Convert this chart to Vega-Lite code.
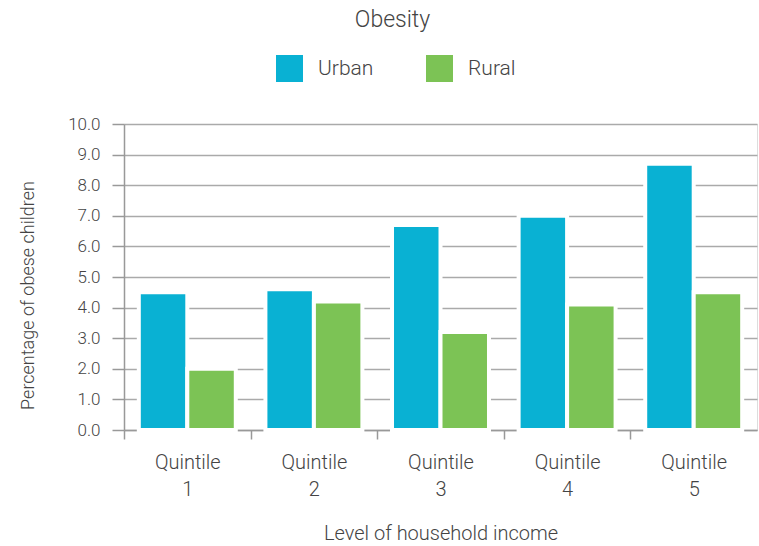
{
  "$schema": "https://vega.github.io/schema/vega-lite/v6.json",
  "autosize": {"type": "none"},
  "padding": {"left": 124, "top": 124, "right": 2, "bottom": 116},
  "width": 633,
  "height": 306,
  "background": "white",
  "title": {"text": "Obesity", "anchor": "middle", "frame": "group", "dx": -48, "offset": 23, "fontSize": 23, "font": "Roboto", "fontWeight": 300, "color": "#444444"},
  "data": {"values": [
    {"quintile": "1", "area": "Urban", "pct": 4.5},
    {"quintile": "1", "area": "Rural", "pct": 2.0},
    {"quintile": "2", "area": "Urban", "pct": 4.6},
    {"quintile": "2", "area": "Rural", "pct": 4.2},
    {"quintile": "3", "area": "Urban", "pct": 6.7},
    {"quintile": "3", "area": "Rural", "pct": 3.2},
    {"quintile": "4", "area": "Urban", "pct": 7.0},
    {"quintile": "4", "area": "Rural", "pct": 4.1},
    {"quintile": "5", "area": "Urban", "pct": 8.7},
    {"quintile": "5", "area": "Rural", "pct": 4.5}
  ]},
  "mark": {"type": "bar", "stroke": "white", "strokeWidth": 4},
  "encoding": {
    "x": {
      "field": "quintile", "type": "nominal", "sort": ["1", "2", "3", "4", "5"],
      "scale": {"paddingInner": 0.234, "paddingOuter": 0.117},
      "axis": {
        "title": "Level of household income",
        "labelExpr": "datum.label ? ['Quintile', datum.label] : ''",
        "labelAngle": 0, "labelFontSize": 20, "labelFont": "Roboto", "labelFontWeight": 300, "labelColor": "#444444",
        "labelPadding": 13, "labelLineHeight": 27,
        "tickOffset": -63.3, "labelOffset": 63.3,
        "tickSize": 9, "tickColor": "#999999", "tickWidth": 1.5,
        "domainColor": "#999999", "domainWidth": 1.5,
        "titleFontSize": 20, "titleFont": "Roboto", "titleFontWeight": 300, "titleColor": "#444444", "titlePadding": 24
      }
    },
    "xOffset": {"field": "area", "type": "nominal", "sort": ["Urban", "Rural"], "scale": {"paddingInner": 0, "paddingOuter": 0}},
    "y": {
      "field": "pct", "type": "quantitative",
      "scale": {"domain": [0, 10], "nice": false},
      "axis": {
        "title": "Percentage of obese children",
        "values": [0, 1, 2, 3, 4, 5, 6, 7, 8, 9, 10],
        "format": ".1f",
        "labelFontSize": 17, "labelFont": "Roboto", "labelFontWeight": 300, "labelColor": "#444444", "labelPadding": 12,
        "tickSize": 12, "tickColor": "#999999", "tickWidth": 1.5,
        "gridColor": "#aaaaaa", "gridWidth": 1.5,
        "domainColor": "#999999", "domainWidth": 1.5,
        "titleFontSize": 18, "titleFont": "Roboto", "titleFontWeight": 300, "titleColor": "#444444",
        "titlePadding": 30, "titleY": 171
      }
    },
    "color": {
      "field": "area", "type": "nominal", "sort": ["Urban", "Rural"],
      "scale": {"domain": ["Urban", "Rural"], "range": ["#09B1D3", "#7CC355"]},
      "legend": {
        "title": null, "orient": "none", "legendX": 152, "legendY": -69,
        "direction": "horizontal", "symbolType": "square", "symbolSize": 729,
        "symbolStrokeWidth": 0, "symbolOpacity": 1,
        "labelFontSize": 21, "labelFont": "Roboto", "labelFontWeight": 300, "labelColor": "#444444",
        "labelOffset": 15, "columnPadding": 52
      }
    }
  }
}
